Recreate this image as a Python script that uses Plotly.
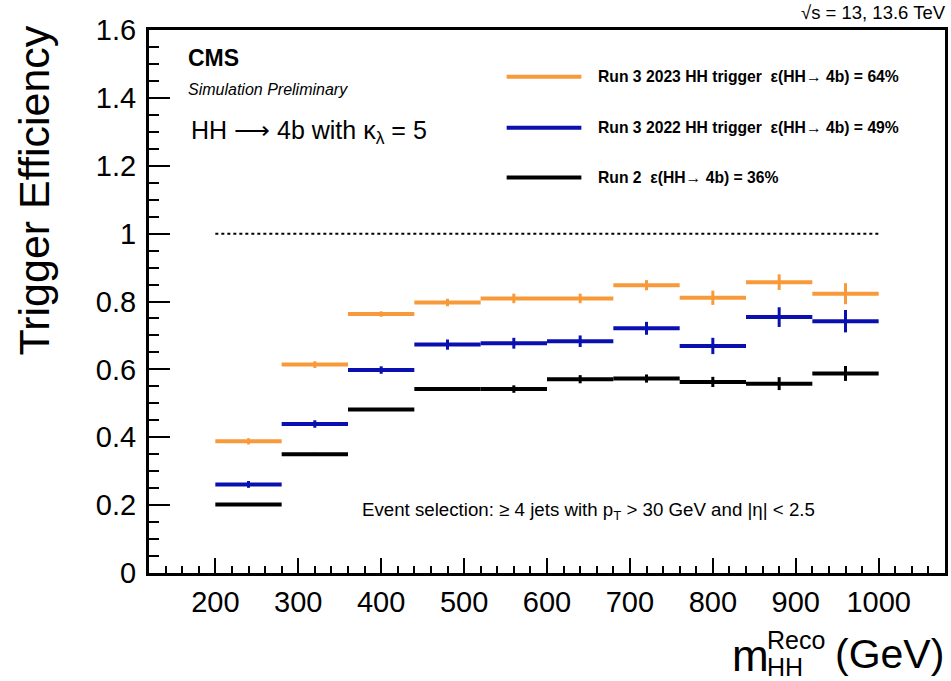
import plotly.graph_objects as go

# ---------------- data ----------------
bin_edges = [200, 280, 360, 440, 520, 600, 680, 760, 840, 920, 1000]

eff_2023 = [0.388, 0.614, 0.763, 0.797, 0.809, 0.809, 0.848, 0.811, 0.857, 0.823]
err_2023 = [0.009, 0.010, 0.008, 0.011, 0.014, 0.014, 0.015, 0.021, 0.023, 0.031]

eff_2022 = [0.261, 0.439, 0.598, 0.673, 0.677, 0.683, 0.721, 0.669, 0.754, 0.742]
err_2022 = [0.010, 0.011, 0.011, 0.015, 0.016, 0.017, 0.019, 0.024, 0.029, 0.033]

eff_run2 = [0.202, 0.350, 0.482, 0.542, 0.542, 0.571, 0.573, 0.563, 0.558, 0.588]
err_run2 = [0.004, 0.004, 0.004, 0.005, 0.011, 0.012, 0.012, 0.015, 0.019, 0.022]

series_labels = [
    "Run 3 2023 HH trigger  ε(HH→ 4b) = 64%",
    "Run 3 2022 HH trigger  ε(HH→ 4b) = 49%",
    "Run 2  ε(HH→ 4b) = 36%",
]
series_colors = ["#f89a3a", "#0a0fb0", "#000000"]

reference_level = 1.0

x_tick_vals = [200, 300, 400, 500, 600, 700, 800, 900, 1000]
x_tick_text = ["200", "300", "400", "500", "600", "700", "800", "900", "1000"]
y_tick_vals = [0, 0.2, 0.4, 0.6, 0.8, 1.0, 1.2, 1.4, 1.6]
y_tick_text = ["0", "0.2", "0.4", "0.6", "0.8", "1", "1.2", "1.4", "1.6"]

# ---------------- layout geometry ----------------
W, H = 951, 681
L, R, T, B = 149, 3, 30, 108
PW, PH = W - L - R, H - T - B
FONT = "Liberation Sans, Arial, sans-serif"


def px(xpix):
    return (xpix - L) / PW


def py(ypix):
    return (T + PH - ypix) / PH


centers = [(a + b) / 2 for a, b in zip(bin_edges[:-1], bin_edges[1:])]
half_w = [(b - a) / 2 for a, b in zip(bin_edges[:-1], bin_edges[1:])]

fig = go.Figure()

# reference line at efficiency = 1
fig.add_trace(go.Scatter(
    x=[bin_edges[0], bin_edges[-1]], y=[reference_level, reference_level],
    mode="lines", line=dict(color="black", width=2, dash="dot"),
    hoverinfo="skip", showlegend=False))

# draw in order: run2, 2022, 2023
for eff, err, col, lab in [
    (eff_run2, err_run2, series_colors[2], series_labels[2]),
    (eff_2022, err_2022, series_colors[1], series_labels[1]),
    (eff_2023, err_2023, series_colors[0], series_labels[0]),
]:
    fig.add_trace(go.Scatter(
        x=centers, y=eff, mode="markers", name=lab,
        marker=dict(size=1, color=col),
        error_x=dict(type="data", array=half_w, width=0, thickness=4, color=col),
        error_y=dict(type="data", array=err, width=0, thickness=3, color=col),
        showlegend=False))

fig.update_layout(
    width=W, height=H,
    margin=dict(l=L, r=R, t=T, b=B, pad=0),
    paper_bgcolor="white", plot_bgcolor="white",
    font=dict(family=FONT, color="black"),
    showlegend=False,
)

fig.update_xaxes(
    range=[120, 1080], showgrid=False, zeroline=False,
    showline=True, linecolor="black", linewidth=3, mirror=True,
    ticks="inside", ticklen=15, tickwidth=2, tickcolor="black",
    tickvals=x_tick_vals, ticktext=x_tick_text,
    tickfont=dict(size=29, family=FONT, color="black"),
    ticklabelstandoff=1,
    minor=dict(dtick=20, tick0=0, ticks="inside", ticklen=7, tickwidth=1.5, tickcolor="black", showgrid=False),
)
fig.update_yaxes(
    range=[0, 1.6], showgrid=False, zeroline=False,
    showline=True, linecolor="black", linewidth=3, mirror=True,
    ticks="inside", ticklen=21, tickwidth=2, tickcolor="black",
    tickvals=y_tick_vals, ticktext=y_tick_text,
    tickfont=dict(size=29, family=FONT, color="black"),
    ticklabelstandoff=4,
    minor=dict(dtick=0.05, tick0=0, ticks="inside", ticklen=10, tickwidth=1.5, tickcolor="black", showgrid=False),
)

# ---------------- legend (manual) ----------------
legend_rows_y = [76.7, 127.7, 177.5]
for yy, col, lab in zip(legend_rows_y, series_colors, series_labels):
    fig.add_shape(type="line", xref="paper", yref="paper",
                  x0=px(508), x1=px(583), y0=py(yy), y1=py(yy),
                  line=dict(color=col, width=4))
    fig.add_annotation(xref="paper", yref="paper", x=px(598), y=py(yy),
                       xanchor="left", yanchor="middle", showarrow=False,
                       text="<b>" + lab + "</b>",
                       font=dict(size=15.7, family=FONT, color="black"))

annots = [
    dict(x=186, y=57.5, text="<b>CMS</b>", size=23, anchor="left"),
    dict(x=186, y=89.5, text="<i>Simulation Preliminary</i>", size=16, anchor="left"),
    dict(x=189, y=132, text="HH ⟶ 4b with κ<sub>λ</sub> = 5", size=25, anchor="left"),
    dict(x=361, y=511, text="Event selection: ≥ 4 jets with p<sub>T</sub> &gt; 30 GeV and |η| &lt; 2.5",
         size=18.7, anchor="left"),
    dict(x=951, y=12, text="√s = 13, 13.6 TeV", size=18.5, anchor="right"),
]
for a in annots:
    fig.add_annotation(xref="paper", yref="paper", x=px(a["x"]), y=py(a["y"]),
                       xanchor=a["anchor"], yanchor="middle", showarrow=False,
                       text=a["text"], font=dict(size=a["size"], family=FONT, color="black"))

# y-axis title
fig.add_annotation(xref="paper", yref="paper", x=px(34), y=py(190),
                   xanchor="center", yanchor="middle", showarrow=False, textangle=-90,
                   text="Trigger Efficiency", font=dict(size=43, family=FONT, color="black"))

# x-axis title pieces: m_HH^Reco (GeV)
fig.add_annotation(xref="paper", yref="paper", x=px(773), y=py(655),
                   xanchor="right", yanchor="middle", showarrow=False,
                   text="m", font=dict(size=44, family=FONT, color="black"))
fig.add_annotation(xref="paper", yref="paper", x=px(767), y=py(640),
                   xanchor="left", yanchor="middle", showarrow=False,
                   text="Reco", font=dict(size=25, family=FONT, color="black"))
fig.add_annotation(xref="paper", yref="paper", x=px(767), y=py(667),
                   xanchor="left", yanchor="middle", showarrow=False,
                   text="HH", font=dict(size=25, family=FONT, color="black"))
fig.add_annotation(xref="paper", yref="paper", x=px(949), y=py(654),
                   xanchor="right", yanchor="middle", showarrow=False,
                   text="(GeV)", font=dict(size=41, family=FONT, color="black"))

fig.write_html("out.html")
